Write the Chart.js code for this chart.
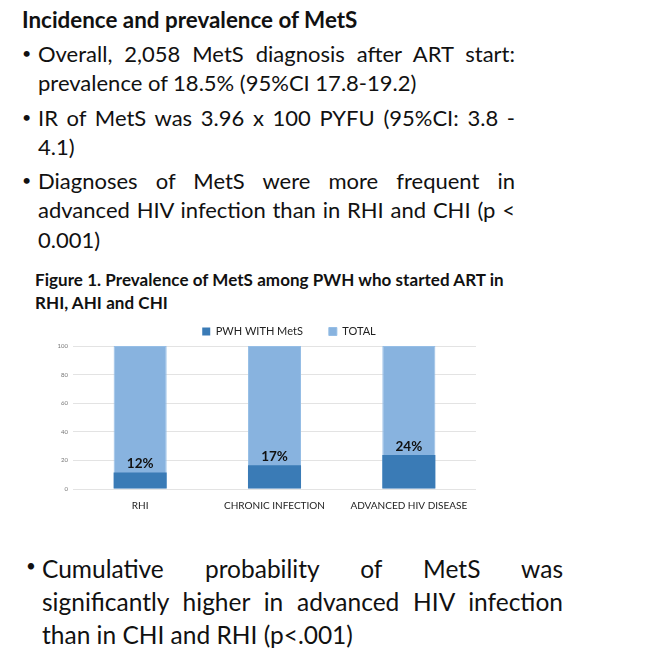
<!DOCTYPE html>
<html>
<head>
<meta charset="utf-8">
<script src="https://cdn.jsdelivr.net/npm/chart.js@4.4.1/dist/chart.umd.min.js"></script>
<style>
  body { margin: 0; background: #fff; width: 663px; height: 666px; position: relative; overflow: hidden; font-family: Lato, "Open Sans", sans-serif; color: #111; }
  .ln { position: absolute; white-space: nowrap; line-height: 1.2; }
  .j { text-align: justify; text-align-last: justify; white-space: normal; }
  .t { font-size: 22px; }
  .b { font-size: 24.5px; }
  .dot { position: absolute; font-size: 16px; }
  #wrap { position: absolute; left: 40px; top: 318px; width: 440px; height: 197px; }
</style>
</head>
<body>
<div class="ln" style="left:22px; top:7px; font-size:22.4px; font-weight:bold;">Incidence and prevalence of MetS</div>

<div class="dot" style="left:22px; top:43px;">•</div>
<div class="ln t j" style="left:38px; top:41px; width:477px;">Overall, 2,058 MetS diagnosis after ART start:</div>
<div class="ln t" style="left:38px; top:70px;">prevalence of 18.5% (95%CI 17.8-19.2)</div>

<div class="dot" style="left:22px; top:107px;">•</div>
<div class="ln t j" style="left:38px; top:105px; width:477px;">IR of MetS was 3.96 x 100 PYFU (95%CI: 3.8 -</div>
<div class="ln t" style="left:38px; top:134px;">4.1)</div>

<div class="dot" style="left:22px; top:170px;">•</div>
<div class="ln t j" style="left:38px; top:168px; width:477px;">Diagnoses of MetS were more frequent in</div>
<div class="ln t j" style="left:38px; top:197px; width:477px;">advanced HIV infection than in RHI and CHI (p &lt;</div>
<div class="ln t" style="left:38px; top:227px;">0.001)</div>

<div class="ln" style="left:35px; top:270px; font-size:17px; font-weight:bold; letter-spacing:0.05px;">Figure 1. Prevalence of MetS among PWH who started ART in</div>
<div class="ln" style="left:35px; top:293px; font-size:17px; font-weight:bold; letter-spacing:0.05px;">RHI, AHI and CHI</div>

<div id="wrap"><canvas id="chart"></canvas></div>

<div class="dot" style="left:26px; top:555px; font-size:17px;">•</div>
<div class="ln b j" style="left:42px; top:554px; width:521px;">Cumulative probability of MetS was</div>
<div class="ln b j" style="left:42px; top:587px; width:521px;">significantly higher in advanced HIV infection</div>
<div class="ln b" style="left:42px; top:620px;">than in CHI and RHI (p&lt;.001)</div>

<script>
// values
const categories = ['RHI', 'CHRONIC INFECTION', 'ADVANCED HIV DISEASE'];
const metsValues = [11.6, 16.6, 23.7];
const totalValues = [100, 100, 100];
const metsLabels = ['12%', '17%', '24%'];

const legendPad = 26;

// percentage labels above the dark bars
const barLabels = {
    id: 'barLabels',
    afterDatasetsDraw(chart) {
        const ctx = chart.ctx;
        const meta = chart.getDatasetMeta(0);
        ctx.save();
        ctx.font = 'bold 13.5px Lato';
        ctx.fillStyle = '#111';
        ctx.textAlign = 'center';
        ctx.textBaseline = 'bottom';
        meta.data.forEach((bar, i) => {
            ctx.fillText(metsLabels[i], bar.x, bar.y - 2);
        });
        ctx.restore();
    }
};

// wide gap between legend items but a short legend box, shifted right like the original
const legendPlace = {
    id: 'legendPlace',
    beforeInit(chart) {
        const legend = chart.legend;
        const fit = legend.fit;
        legend.fit = function () {
            fit.call(this);
            this.height = 28;
        };
    },
    afterLayout(chart) {
        const legend = chart.legend;
        legend.top = 8 - legendPad;
        legend.left += 31;
        legend.right += 31;
    }
};

const frame = document.getElementById('chart');

const prevalence = new Chart(frame, {
    type: 'bar',
    data: {
        labels: categories,
        datasets: [
            {
                label: 'PWH WITH MetS',
                data: metsValues,
                backgroundColor: 'rgb(58, 123, 182)',
                grouped: false
            },
            {
                label: 'TOTAL',
                data: totalValues,
                backgroundColor: 'rgb(136, 179, 223)',
                borderColor: 'rgb(150, 190, 230)',
                borderWidth: 1,
                grouped: false
            }
        ]
    },
    options: {
        responsive: true,
        maintainAspectRatio: false,
        animation: false,
        categoryPercentage: 1,
        barPercentage: 0.395,
        layout: { padding: { right: 4 } },
        plugins: {
            legend: {
                position: 'top',
                labels: {
                    boxWidth: 8,
                    boxHeight: 8,
                    padding: legendPad,
                    color: '#222',
                    font: { family: 'Lato', size: 11 }
                }
            },
            tooltip: { enabled: false }
        },
        scales: {
            x: {
                grid: { display: false },
                border: { display: false },
                ticks: { color: '#222', font: { family: 'Lato', size: 10 }, padding: 3 }
            },
            y: {
                min: 0,
                max: 100,
                ticks: { stepSize: 20, color: '#777', font: { family: 'Lato', size: 6 }, padding: 5 },
                grid: { color: '#e3e3e3', drawTicks: false },
                border: { display: false },
                afterFit(scale) { scale.width = 33; }
            }
        }
    },
    plugins: [barLabels, legendPlace]
});
</script>
</body>
</html>
